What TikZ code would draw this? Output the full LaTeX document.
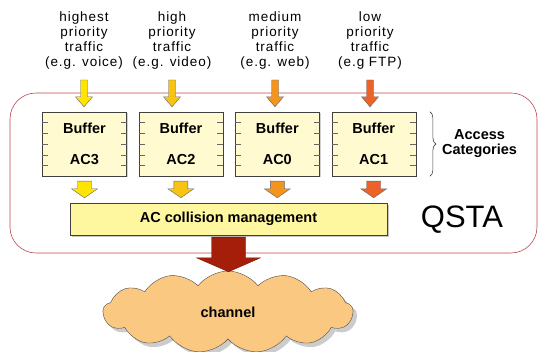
\documentclass[tikz,border=0pt]{standalone}
\usepackage{fontspec}
\setmainfont{Liberation Sans}
\newfontfamily\spacedfont[LetterSpace=7]{Liberation Sans}
\usetikzlibrary{arrows.meta,positioning,calc,shapes.symbols,shadows,decorations.pathreplacing}

\definecolor{bufferfill}{RGB}{255,250,208}
\definecolor{mgmtfill}{RGB}{255,246,160}
\definecolor{cloudfill}{RGB}{251,200,130}
\definecolor{qstaline}{RGB}{190,70,80}
\definecolor{acthree}{RGB}{255,228,0}
\definecolor{actwo}{RGB}{248,196,20}
\definecolor{aczero}{RGB}{242,148,30}
\definecolor{acone}{RGB}{236,98,40}
\definecolor{chanred}{RGB}{165,30,10}

\tikzset{
  traffic/.style={align=center, font=\spacedfont\fontsize{13.5}{15}\selectfont, inner sep=0pt},
  bufbox/.style={draw=black!75, fill=bufferfill, minimum width=84pt, minimum height=64pt, align=center, font=\bfseries\fontsize{14.5}{16}\selectfont, drop shadow={shadow xshift=1.5pt, shadow yshift=-1.5pt, fill=black!35}},
  mgmtbox/.style={draw=black!75, fill=mgmtfill, minimum width=317pt, minimum height=32pt, font=\bfseries\fontsize{14.5}{16}\selectfont, drop shadow={shadow xshift=2pt, shadow yshift=-2pt, fill=black!45}},
  station/.style={draw=qstaline, line width=0.6pt, rounded corners=26pt, minimum width=527pt, minimum height=160pt},
  catlabel/.style={align=center, font=\bfseries\fontsize{14.5}{15}\selectfont, inner sep=0pt},
  flow/.style={draw=black!60, line width=0.4pt, line join=miter},
  channelcloud/.style={cloud, cloud puffs=13, cloud puff arc=105, cloud ignores aspect, minimum width=250pt, minimum height=82pt, draw=black!70, fill=cloudfill, font=\bfseries\fontsize{14.5}{16}\selectfont, drop shadow={shadow xshift=4pt, shadow yshift=-4pt, fill=black!40}},
  bracket/.style={decorate, decoration={brace, amplitude=6pt}, draw=black!75, line width=0.6pt}
}

% style, from, to, half shaft, half head, head length
\newcommand{\flowarrow}[6]{%
  \draw[flow,#1] let \p1=(#2), \p2=(#3) in
    (\x1-#4,\y1) -- (\x1-#4,\y2+#6) -- (\x1-#5,\y2+#6) -- (\x1,\y2)
    -- (\x1+#5,\y2+#6) -- (\x1+#4,\y2+#6) -- (\x1+#4,\y1) -- cycle;}

\begin{document}
\begin{tikzpicture}[x=1pt, y=-1pt]
\useasboundingbox (0,0) rectangle (539,352);

% station frame
\node[station] (qsta) at (273.5,173) {};
\node[font=\fontsize{31}{33}\selectfont] (qstalabel) at (462,220) {QSTA};

% traffic classes
\node[traffic] (t3) at (84,41) {highest\\priority\\traffic\\(e.g. voice)};
\node[traffic] (t2) at (172,41) {high\\priority\\traffic\\(e.g. video)};
\node[traffic] (t0) at (275,41) {medium\\priority\\traffic\\(e.g. web)};
\node[traffic] (t1) at (370,41) {low\\priority\\traffic\\(e.g FTP)};

% buffers
\node[bufbox] (buf3) at (84.5,144) {Buffer\\[15pt]AC3};
\node[bufbox, right=12pt of buf3] (buf2) {Buffer\\[15pt]AC2};
\node[bufbox, right=12pt of buf2] (buf0) {Buffer\\[15pt]AC0};
\node[bufbox, right=12pt of buf0] (buf1) {Buffer\\[15pt]AC1};
\foreach \b in {buf3,buf2,buf0,buf1}
  \foreach \k in {1,...,5} {
    \draw[black!60] ($(\b.north west)!\k/6!(\b.south west)$) -- ++(6pt,0);
    \draw[black!60] ($(\b.north east)!\k/6!(\b.south east)$) -- ++(-6pt,0);
  }

% access categories
\coordinate (bracetop) at ([xshift=14pt]buf1.north east);
\coordinate (bracebot) at ([xshift=14pt]buf1.south east);
\draw[bracket] (bracetop) -- (bracebot);
\node[catlabel, right=12pt] (access) at ($(bracetop)!0.5!(bracebot)$) {Access\\Categories};

% collision management
\node[mgmtbox] (mgmt) at (228.5,219) {AC collision management};

% channel
\node[channelcloud] (channel) at (228,312) {channel};

% arrows in
\flowarrow{fill=acthree}{[yshift=-10pt]t3.south}{[yshift=5pt]buf3.north}{3.5pt}{8.5pt}{10pt}
\flowarrow{fill=actwo}{[yshift=-10pt]t2.south}{[yshift=5pt]buf2.north}{3.5pt}{8.5pt}{10pt}
\flowarrow{fill=aczero}{[yshift=-10pt]t0.south}{[yshift=5pt]buf0.north}{3.5pt}{8.5pt}{10pt}
\flowarrow{fill=acone}{[yshift=-10pt]t1.south}{[yshift=5pt]buf1.north}{3.5pt}{8.5pt}{10pt}

% arrows out
\flowarrow{fill=acthree}{[yshift=-5pt]buf3.south}{[yshift=5pt]buf3.south|-mgmt.north}{7pt}{13pt}{9pt}
\flowarrow{fill=actwo}{[yshift=-5pt]buf2.south}{[yshift=5pt]buf2.south|-mgmt.north}{7pt}{13pt}{9pt}
\flowarrow{fill=aczero}{[yshift=-5pt]buf0.south}{[yshift=5pt]buf0.south|-mgmt.north}{7pt}{13pt}{9pt}
\flowarrow{fill=acone}{[yshift=-5pt]buf1.south}{[yshift=5pt]buf1.south|-mgmt.north}{7pt}{13pt}{9pt}

% to the channel
\flowarrow{fill=chanred, draw=chanred!70!black}{[yshift=-2pt]mgmt.south}{[yshift=-1pt]channel.north}{17pt}{32pt}{14pt}
\end{tikzpicture}
\end{document}
